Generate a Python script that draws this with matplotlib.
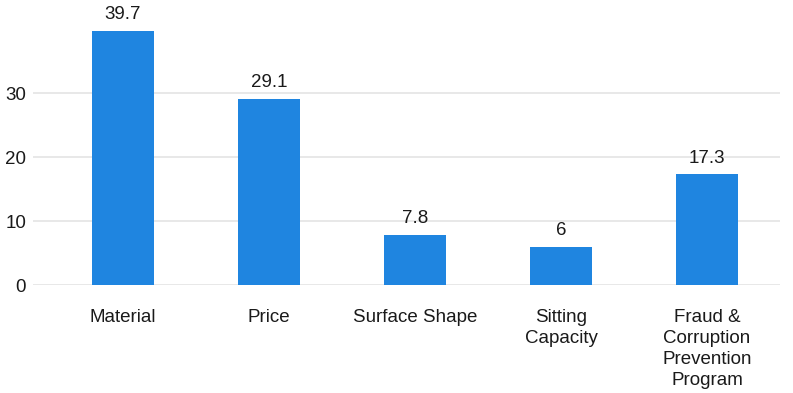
import matplotlib.pyplot as plt

plt.rcParams['font.family'] = ['Liberation Sans', 'DejaVu Sans']

categories = ['Material', 'Price', 'Surface Shape', 'Sitting\nCapacity',
              'Fraud &\nCorruption\nPrevention\nProgram']
values = [39.7, 29.1, 7.8, 6, 17.3]
value_labels = ['39.7', '29.1', '7.8', '6', '17.3']
yticks = [0, 10, 20, 30]

fig = plt.figure(figsize=(7.93, 3.93), dpi=100)
ax = fig.add_axes([33 / 793, 108 / 393, 747 / 793, 256 / 393])

x = range(len(categories))
bars = ax.bar(x, values, width=0.43, color='#1f85e0', zorder=3)

for b, lab in zip(bars, value_labels):
    ax.text(b.get_x() + b.get_width() / 2, b.get_height() + 1.2, lab,
            ha='center', va='bottom', fontsize=13.5, color='#1a1a1a', clip_on=False)

ax.set_xlim(-0.616, 4.5)
ax.set_ylim(0, 40)
ax.set_yticks(yticks)
ax.set_xticks(list(x))
ax.set_xticklabels(categories, fontsize=13.5, color='#1a1a1a', linespacing=1.33, va='top')
ax.tick_params(axis='x', length=0, pad=17)
ax.tick_params(axis='y', length=0, pad=5, labelsize=13.5, labelcolor='#1a1a1a')
ax.grid(axis='y', color='#e4e4e4', linewidth=1.2, zorder=0)
for s in ax.spines.values():
    s.set_visible(False)

fig.savefig('out.png', dpi=100)
